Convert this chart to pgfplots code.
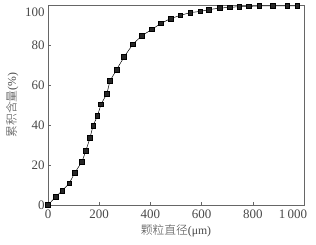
\documentclass[border=0pt]{standalone}
\usepackage{fontspec}
\setmainfont{Liberation Serif}
\newfontfamily\cjk{Noto Sans CJK SC Light}
\usepackage{pgfplots}
\pgfplotsset{compat=1.18}
\definecolor{txt}{HTML}{484848}
\begin{document}
\begin{tikzpicture}
\path[use as bounding box] (-48bp,-40bp) rectangle (268bp,205bp);
\begin{axis}[
  scale only axis, width=256bp, height=200bp,
  xmin=0, xmax=1000, ymin=0, ymax=100,
  xtick={0,200,400,600,800,1000},
  xticklabels={0,200,400,600,800,{\makebox[0pt][r]{1\,000\kern-3bp}}},
  ytick={0,20,40,60,80,100},
  yticklabels={0,20,40,60,80,{\raisebox{-11.5bp}[0pt][0pt]{100}}},
  tick align=inside, xtick pos=bottom, ytick pos=left,
  major tick length=3bp,
  axis line style={draw=gray!80!black, line width=0.6pt},
  tick style={draw=gray!80!black, line width=0.5pt},
  ticklabel style={font=\fontsize{13}{15}\selectfont, text=txt},
  xticklabel style={yshift=-1bp},
  xlabel={{\cjk 颗粒直径}(μm)},
  ylabel={{\cjk 累积含量}(\%)},
  label style={font=\fontsize{11.8}{13}\selectfont, text=txt},
  xlabel style={at={(axis description cs:0.5,0)}, anchor=center, yshift=-26bp},
  ylabel style={at={(axis description cs:-0.14,0.5)}, anchor=center},
  clip=false,
]
\addplot[black, line width=0.5pt, mark=square*, mark size=2.3bp, mark options={solid, fill=black!85}] coordinates {
(0,0) (30,4) (55,7.2) (83,10.8) (104,16) (133,21.7) (148,27.2) (164,33.5)
(176,39.7) (193,44.5) (207,50.3) (230,55.7) (242,62) (268,67.7) (297,74)
(331,80.3) (367,84.7) (406,87.8) (441,90.8) (479,93.2) (516,94.8) (556,96.2)
(595,96.8) (629,97.7) (672,98.5) (711,98.8) (747,99.2) (785,99.3) (825,99.5)
(878,99.5) (935,99.5) (974,99.5)
};
\end{axis}
\end{tikzpicture}
\end{document}
